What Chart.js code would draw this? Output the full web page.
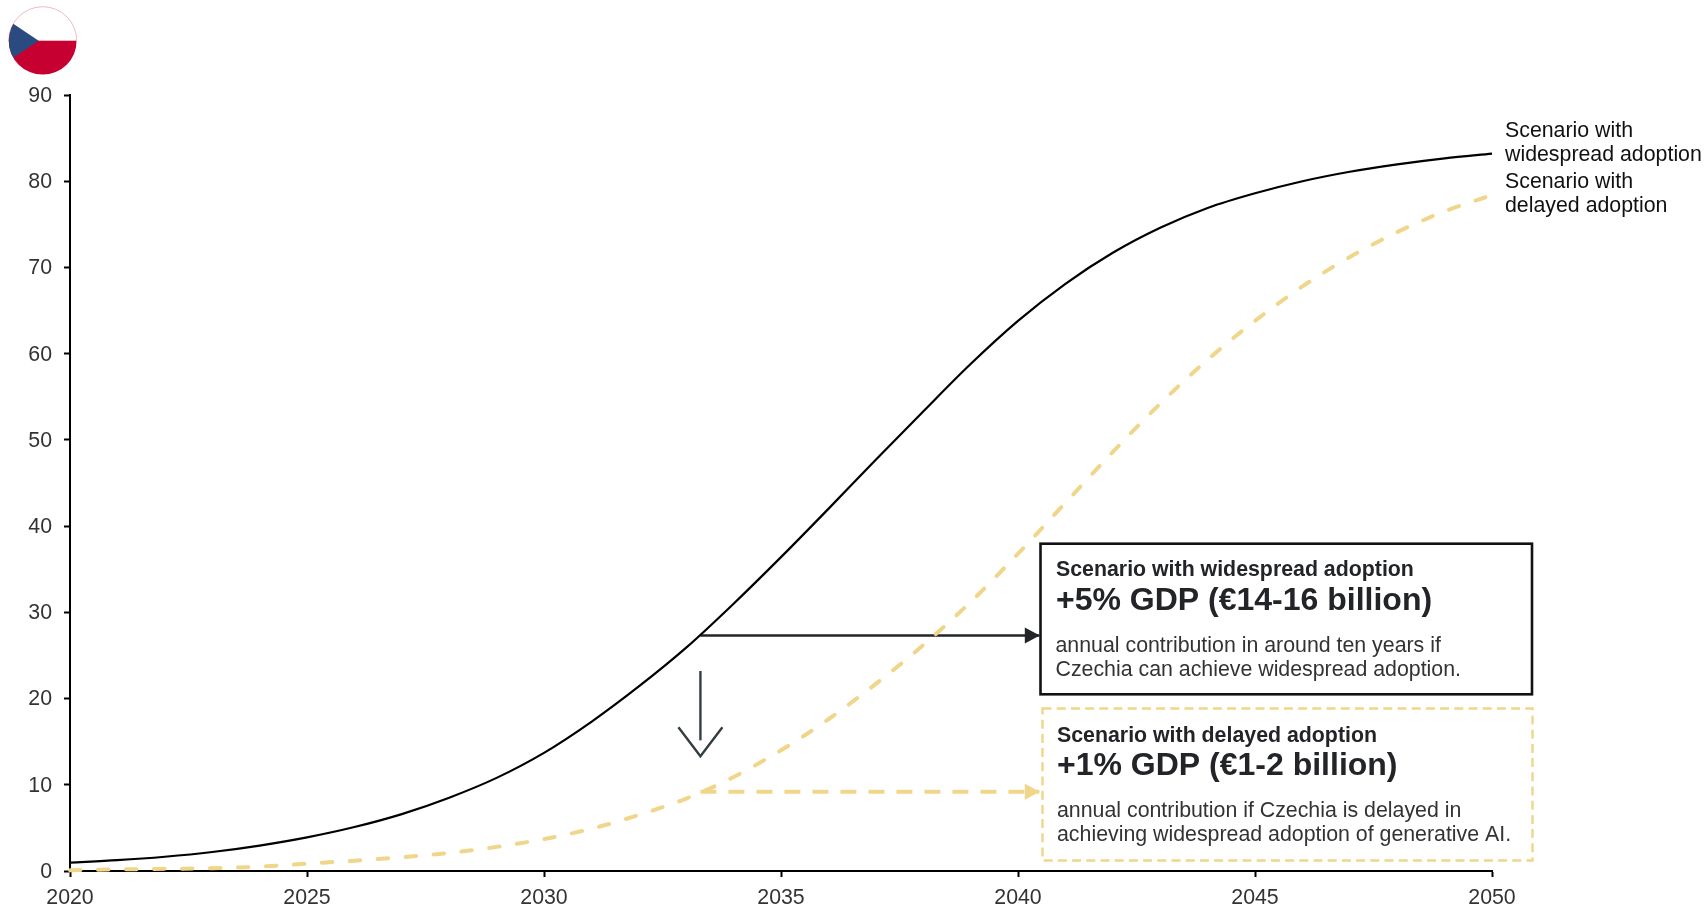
<!DOCTYPE html>
<html><head><meta charset="utf-8">
<style>html,body{margin:0;padding:0;background:#fff}canvas{display:block}</style>
<script src="https://cdn.jsdelivr.net/npm/chart.js@4"></script></head>
<body><canvas id="c" width="1706" height="906"></canvas>
<script>
const years=[2020,2021,2022,2023,2024,2025,2026,2027,2028,2029,2030,2031,2032,2033,2034,2035,2036,2037,2038,2039,2040,2041,2042,2043,2044,2045,2046,2047,2048,2049,2050];
const widespread=[0.97,1.25,1.65,2.2,2.95,3.9,5.1,6.6,8.5,10.8,13.7,17.3,21.4,25.9,31.0,36.4,42.0,47.7,53.3,58.8,63.8,68.1,71.7,74.6,76.9,78.6,80.0,81.1,81.95,82.65,83.2];
const delayed=[0.1,0.18,0.25,0.33,0.5,0.85,1.2,1.6,2.1,2.8,3.7,4.9,6.5,8.4,10.9,14.0,17.6,21.7,26.2,31.2,36.8,42.7,48.6,54.2,59.3,63.8,67.8,71.2,74.1,76.5,78.4];
const xTickValues=[2020,2025,2030,2035,2040,2045,2050];
const arrowX=[2033.3,2040.45];
const arrowWide=[27.3,27.3];
const arrowDelayed=[9.2,9.2];
const downArrow=[23.2,13.3];
const labelWide=["Scenario with","widespread adoption"];
const labelDelayed=["Scenario with","delayed adoption"];
const F='"Liberation Sans"';
const YEL='#F0D68A', INK='#222427';
const pts=(xs,ys)=>xs.map((x,i)=>({x,y:ys[i]}));
function head(ctx,tipX,y,col){ctx.fillStyle=col;ctx.beginPath();ctx.moveTo(tipX,y);ctx.lineTo(tipX-15,y-8);ctx.lineTo(tipX-15,y+8);ctx.closePath();ctx.fill();}
function txt(ctx,s,x,y,font,col){ctx.font=font;ctx.fillStyle=col;ctx.textAlign='left';ctx.textBaseline='alphabetic';ctx.fillText(s,x,y);}
const overlay={id:'overlay',afterDraw(ch){
 const c=ch.ctx,X=ch.scales.x,Y=ch.scales.y;c.save();
 const fx=42.7,fy=40.7,fr=34;
 c.save();c.beginPath();c.arc(fx,fy,fr,0,Math.PI*2);c.clip();
 c.fillStyle='#fff';c.fillRect(fx-fr,fy-fr,2*fr,fr);
 c.fillStyle='#C60031';c.fillRect(fx-fr,fy,2*fr,fr);
 c.fillStyle='#2A4A80';c.beginPath();c.moveTo(fx-4,fy);c.lineTo(fx-40,fy-24);c.lineTo(fx-40,fy+24);c.closePath();c.fill();
 c.restore();
 c.strokeStyle='rgba(198,0,49,.35)';c.lineWidth=0.8;c.beginPath();c.arc(fx,fy,fr,Math.PI,0);c.stroke();
 c.fillStyle='#fff';
 c.fillRect(1040,544,492,150);
 c.strokeStyle='#111214';c.lineWidth=2.6;c.strokeRect(1040.5,543.7,491.5,150.6);
 c.strokeStyle=YEL;c.lineWidth=2.4;c.setLineDash([9,5.2]);c.strokeRect(1042.5,708.5,490,152);c.setLineDash([]);
 const tip=X.getPixelForValue(arrowX[1]);
 head(c,tip+0.5,Y.getPixelForValue(arrowWide[0]),INK);
 head(c,tip+0.5,Y.getPixelForValue(arrowDelayed[0]),YEL);
 const dx=X.getPixelForValue(arrowX[0]),d0=Y.getPixelForValue(downArrow[0]),d1=Y.getPixelForValue(downArrow[1]);
 c.strokeStyle='#343E42';c.lineWidth=2.4;c.lineCap='butt';
 c.beginPath();c.moveTo(dx,d0);c.lineTo(dx,d1-16);c.stroke();
 c.beginPath();c.moveTo(dx-22,d1-29);c.lineTo(dx,d1);c.lineTo(dx+22,d1-29);c.stroke();
 const E=F, lx=1505, lc='#111', fs='21.33px ';
 txt(c,labelWide[0],lx,136.7,fs+E,lc);txt(c,labelWide[1],lx,161,fs+E,lc);
 txt(c,labelDelayed[0],lx,187.8,fs+E,lc);txt(c,labelDelayed[1],lx,211.7,fs+E,lc);
 txt(c,'Scenario with widespread adoption',1056,576,'bold '+fs+E,INK);
 txt(c,'+5% GDP (€14-16 billion)',1056,609.5,'bold 32px '+E,INK);
 txt(c,'annual contribution in around ten years if',1055.5,652,fs+E,'#333');
 txt(c,'Czechia can achieve widespread adoption.',1055.5,676,fs+E,'#333');
 txt(c,'Scenario with delayed adoption',1057,741.7,'bold '+fs+E,INK);
 txt(c,'+1% GDP (€1-2 billion)',1057,775,'bold 32px '+E,INK);
 txt(c,'annual contribution if Czechia is delayed in',1057,816.7,fs+E,'#333');
 txt(c,'achieving widespread adoption of generative AI.',1057,841,fs+E,'#333');
 c.restore();
}};
new Chart(document.getElementById('c'),{
 type:'line',
 data:{datasets:[
  {label:'Scenario with delayed adoption',data:pts(years,delayed),borderColor:YEL,borderWidth:4,borderDash:[10.5,17.5],borderCapStyle:'round',cubicInterpolationMode:'monotone',pointRadius:0,clip:false},
  {label:'Scenario with widespread adoption',data:pts(years,widespread),borderColor:'#000',borderWidth:2.2,cubicInterpolationMode:'monotone',pointRadius:0,clip:false},
  {label:'Widespread arrow',data:pts(arrowX,arrowWide),borderColor:INK,borderWidth:2.5,pointRadius:0,clip:false},
  {label:'Delayed arrow',data:pts(arrowX,arrowDelayed),borderColor:YEL,borderWidth:4,borderDash:[16,12],pointRadius:0,clip:false}
 ]},
 options:{responsive:false,animation:false,events:[],
  layout:{padding:{top:95,right:214,bottom:0,left:0}},
  plugins:{legend:{display:false},tooltip:{enabled:false},title:{display:false}},
  scales:{
   x:{type:'linear',min:2020,max:2050,afterFit(s){s.height=35},
    afterBuildTicks(s){s.ticks=xTickValues.map(v=>({value:v}))},
    ticks:{callback:v=>String(v),autoSkip:false,maxRotation:0,font:{family:'Liberation Sans',size:21.33},color:'#333',padding:8},
    grid:{drawOnChartArea:false,drawTicks:true,tickLength:6,tickColor:'#000',tickWidth:2},
    border:{display:true,color:'#000',width:2}},
   y:{min:0,max:90,afterFit(s){s.width=70},
    ticks:{stepSize:10,font:{family:'Liberation Sans',size:21.33},color:'#333',padding:12,labelOffset:1},
    grid:{drawOnChartArea:false,drawTicks:true,tickLength:6,tickColor:'#000',tickWidth:2},
    border:{display:true,color:'#000',width:2}}
  }},
 plugins:[overlay]
});
</script></body></html>
